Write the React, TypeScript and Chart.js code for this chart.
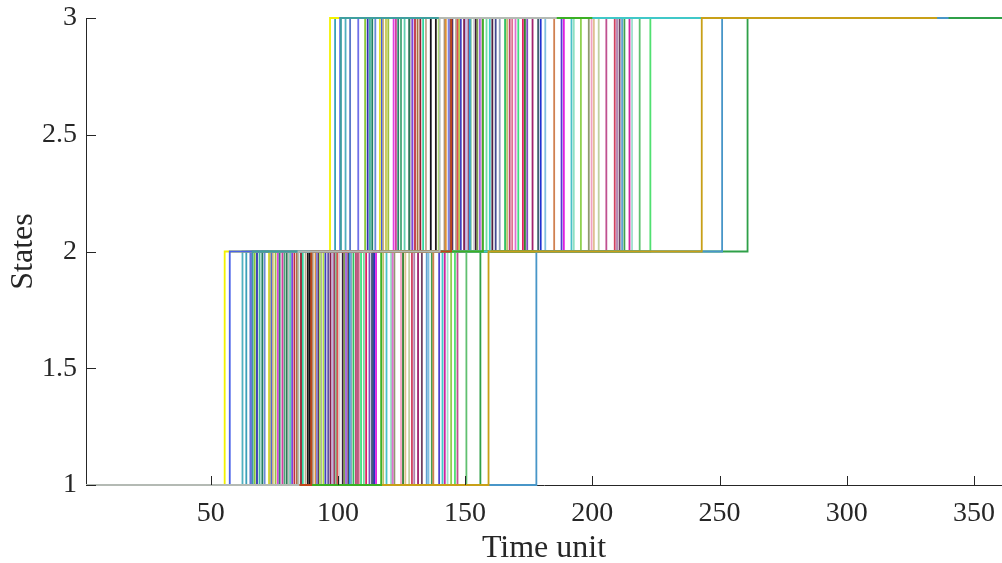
import React, { useEffect, useRef } from "react";
import { Chart, registerables } from "chart.js";

Chart.register(...registerables);

// Each series: state 1 from startTime, jumps to 2 at stepTo2, to 3 at stepTo3, ends at endTime.
const startTime = 1;

const stepTo2: number[] = [
  64, 65.6, 67.3, 68.2, 69.2, 71.2, 72.9, 73.8, 74.4, 75.5,
  76.4, 77.1, 79, 79.9, 80.7, 82, 82.9, 83.9, 86.2, 87.3,
  88.2, 90.1, 91.2, 91.7, 92.4, 93.4, 94.3, 95.1, 97.1, 98,
  98.6, 99.3, 100.6, 101.9, 102.5, 103.2, 104.1, 105.2, 106.1, 107.1,
  108.2, 109.1, 111.1, 112.4, 113.4, 114.3, 115, 119.1, 120.9, 122.2,
  124.8, 126.5, 128, 129.1, 130, 133, 134.9, 136.9, 142, 143.1,
  146,
  62.5, 66, 70.3, 73.2, 78.2, 81.3, 85.5, 89, 92.9, 96.2,
  99.8, 104.6, 107.8, 110.2, 113.9, 117.8, 121.5, 125.6, 131.5, 135.6,
  137.5, 139.8, 144.5, 147, 150.5,
  55.5, 57.5, 66.5, 156, 141.1, 178, 159.2, 117, 89.5, 84.5,
];

const stepTo3: number[] = [
  98.9, 104.8, 110.7, 111.7, 112.6, 114.7, 116.5, 117.3, 117.8, 119.8,
  121.9, 123.7, 124.8, 128, 128.7, 129.3, 130.3, 131.3, 133.5, 134.6,
  138.5, 141.9, 142.4, 143.5, 145, 146.4, 147.6, 148.3, 149.6, 150.3,
  151.3, 152.2, 153.5, 154.2, 154.8, 155.8, 160.7, 163.6, 165.7, 167.5,
  168.5, 170.9, 172.7, 174.4, 178.7, 179.7, 188.8, 191.8, 192.7, 198.6,
  199.7, 200.6, 202.5, 208.8, 209.7, 210.7, 211.7, 212.6, 214.6, 215.6,
  222.8,
  103, 108, 113.5, 118.9, 122.8, 126.2, 132.4, 136.5, 139.6, 144.2,
  147, 151.8, 156.8, 158.4, 162, 166.5, 169.8, 173.5, 176.5, 181.5,
  185, 187.9, 195.5, 205.5, 218.6,
  96.9, 100.9, 101.2, 261, 159.7, 251, 243, 157, 144.5, 140,
];

const endTime: number[] = [
  300, 310, 290, 320, 305, 295, 315, 330, 285, 300,
  310, 325, 290, 300, 315, 280, 305, 320, 295, 310,
  300, 290, 315, 305, 320, 300, 285, 310, 295, 300,
  315, 305, 290, 320, 300, 310, 295, 305, 315, 300,
  290, 310, 305, 320, 300, 295, 310, 315, 300, 305,
  290, 310, 300, 320, 305, 295, 310, 300, 315, 305,
  300,
  305, 295, 310, 300, 320, 290, 305, 315, 300, 310,
  295, 305, 320, 300, 310, 290, 305, 315, 300, 295,
  310, 305, 300, 320, 310,
  330, 320, 195, 362, 300, 340, 335.5, 200, 185, 186,
];

const lineColors: string[] = [
  "#3aa0b8", "#5878c8", "#8ac83a", "#3030b0", "#40b898",
  "#6a8ad8", "#e0e030", "#4060e0", "#c8b080", "#a0c040",
  "#e040e0", "#2a8a6a", "#48a878", "#307858", "#c0c0c0",
  "#8040e0", "#c03040", "#a87040", "#30d8a0", "#c0a890",
  "#201818", "#a89078", "#e09030", "#8080e0", "#5a3060",
  "#b0b0a0", "#b0e040", "#4040c0", "#802050", "#c0b0e0",
  "#a04060", "#70c090", "#d0d0d0", "#3a1a3a", "#80a050",
  "#a060e0", "#502040", "#90a0c0", "#30c060", "#c04070",
  "#e07090", "#40e080", "#e02060", "#8050c0", "#406070",
  "#2030d0", "#e020e0", "#48c0c8", "#90e0c0", "#909870",
  "#f0a0c0", "#e0c090", "#c0d0a0", "#d04060", "#b080b0",
  "#704060", "#60a0d0", "#40a050", "#d020a0", "#a0e0d0",
  "#50e070",
  "#50b0c0", "#7070e8", "#208060", "#c8c850", "#d040a0",
  "#60d0b0", "#902030", "#101018", "#a8e060", "#6050a0",
  "#e05050", "#30a0e0", "#b06080", "#70e0a0", "#404890",
  "#c0c070", "#e070d0", "#308030", "#a02070", "#80c0e0",
  "#d08050", "#5040d0", "#90d050", "#c05090", "#60c070",
  "#f2f200", "#4a62e8", "#3f9f9f", "#2fa048", "#40c8c8",
  "#4896c8", "#c8a018", "#3cb024", "#c04818", "#b4bab4",
];

const xTicks: number[] = [50, 100, 150, 200, 250, 300, 350];
const yTicks: number[] = [1, 1.5, 2, 2.5, 3];
const xMin = 1;
const xMax = 361;
const yMin = 1;
const yMax = 3;

const axisColor = "#262626";
const fontFamily = "'Liberation Serif', 'Times New Roman', serif";

const innerTicks = {
  id: "innerTicks",
  afterDatasetsDraw(chart: any) {
    const { ctx, chartArea } = chart;
    const x = chart.scales.x;
    const y = chart.scales.y;
    ctx.save();
    ctx.strokeStyle = axisColor;
    ctx.lineWidth = 1;
    ctx.beginPath();
    for (const v of xTicks) {
      const px = Math.round(x.getPixelForValue(v)) + 0.5;
      ctx.moveTo(px, chartArea.bottom);
      ctx.lineTo(px, chartArea.bottom - 9);
    }
    for (const v of yTicks) {
      const py = Math.round(y.getPixelForValue(v)) + 0.5;
      ctx.moveTo(chartArea.left, py);
      ctx.lineTo(chartArea.left + 10, py);
    }
    ctx.stroke();
    ctx.restore();
  },
};

const zeroPadding = (scale: any) => {
  scale.paddingLeft = 0;
  scale.paddingRight = 0;
  scale.paddingTop = 0;
  scale.paddingBottom = 0;
};

export default function App() {
  const canvasRef = useRef<HTMLCanvasElement | null>(null);

  useEffect(() => {
    if (!canvasRef.current) return;
    const n = stepTo2.length;
    const datasets = stepTo2.map((t1, i) => ({
      label: `Series ${i + 1}`,
      data: [
        { x: startTime, y: 1 },
        { x: t1, y: 1 },
        { x: t1, y: 2 },
        { x: stepTo3[i], y: 2 },
        { x: stepTo3[i], y: 3 },
        { x: endTime[i], y: 3 },
      ],
      borderColor: lineColors[i],
      backgroundColor: lineColors[i],
      borderWidth: 1.8,
      pointRadius: 0,
      tension: 0,
      fill: false,
      clip: false as any,
      order: n - i,
    }));

    const chart = new Chart(canvasRef.current, {
      type: "line",
      data: { datasets },
      plugins: [innerTicks],
      options: {
        animation: false,
        responsive: false,
        devicePixelRatio: 1,
        events: [],
        layout: { padding: { top: 18, right: 0, bottom: 0, left: 0 } },
        plugins: {
          legend: { display: false },
          tooltip: { enabled: false },
        },
        scales: {
          x: {
            type: "linear",
            min: xMin,
            max: xMax,
            afterBuildTicks: (scale: any) => {
              scale.ticks = xTicks.map((v) => ({ value: v }));
            },
            afterFit: (scale: any) => {
              scale.height = 78;
              zeroPadding(scale);
            },
            grid: { display: false, drawTicks: false },
            border: { display: true, color: axisColor, width: 1 },
            ticks: {
              autoSkip: false,
              maxRotation: 0,
              padding: 12,
              color: axisColor,
              font: { family: fontFamily, size: 28 },
              callback: (v: any) => String(v),
            },
            title: {
              display: true,
              text: "Time unit",
              color: axisColor,
              font: { family: fontFamily, size: 32, lineHeight: 0.9 },
              padding: { top: 0, bottom: 0 },
            },
          },
          y: {
            type: "linear",
            min: yMin,
            max: yMax,
            afterBuildTicks: (scale: any) => {
              scale.ticks = yTicks.map((v) => ({ value: v }));
            },
            afterFit: (scale: any) => {
              scale.width = 86;
              zeroPadding(scale);
            },
            grid: { display: false, drawTicks: false },
            border: { display: true, color: axisColor, width: 1 },
            ticks: {
              autoSkip: false,
              padding: 9,
              color: axisColor,
              font: { family: fontFamily, size: 28 },
              callback: (v: any) => String(v),
            },
            title: {
              display: true,
              text: "States",
              color: axisColor,
              font: { family: fontFamily, size: 32, lineHeight: 1.1 },
              padding: { top: 6, bottom: 0 },
            },
          },
        },
      },
    });
    return () => chart.destroy();
  }, []);

  return (
    <div style={{ position: "fixed", left: 0, top: 0, width: 1002, height: 563, background: "#fff" }}>
      <canvas ref={canvasRef} width={1002} height={563} style={{ display: "block" }} />
    </div>
  );
}
